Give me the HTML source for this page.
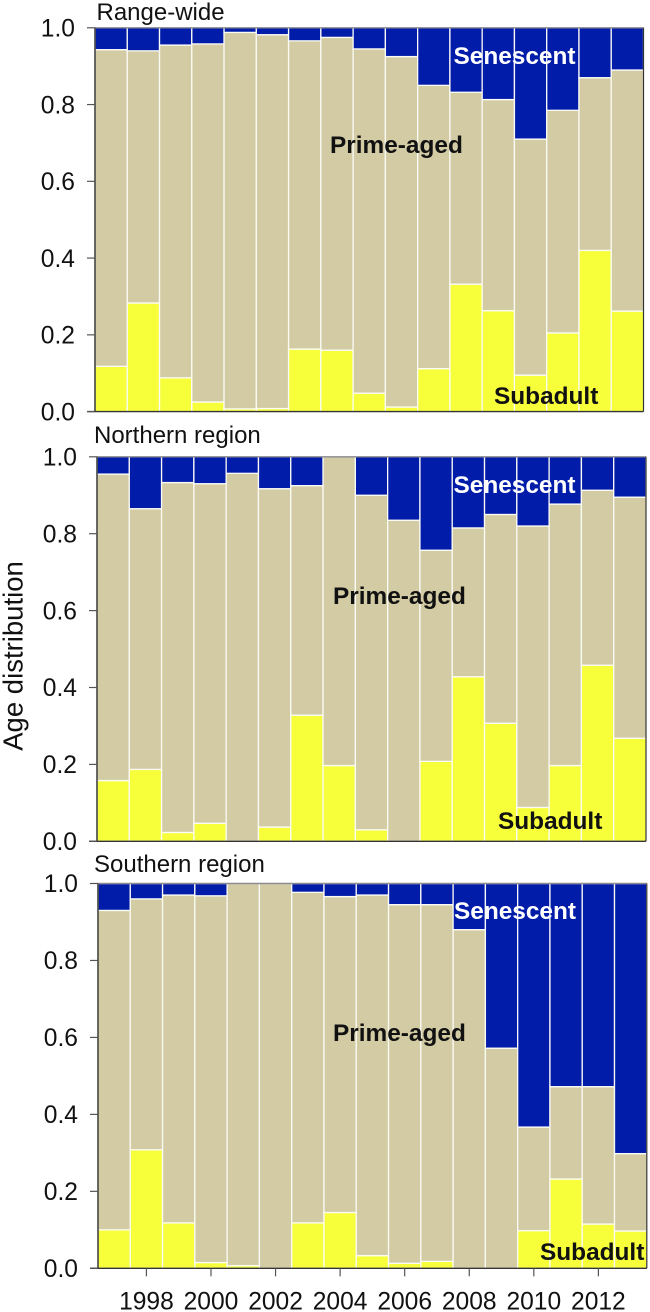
<!DOCTYPE html>
<html lang="en">
<head>
<meta charset="utf-8">
<title>Age distribution by region</title>
<style>
html,body{margin:0;padding:0;background:#fff;}
svg{display:block;font-family:"Liberation Sans",sans-serif;}
text{fill:#111;}
.tick{font-size:24.6px;}
.title{font-size:24px;}
.lab{font-size:24.4px;font-weight:bold;}
</style>
</head>
<body>
<svg id="chart" xmlns="http://www.w3.org/2000/svg" width="650" height="1312" viewBox="0 0 650 1312">
<text transform="translate(22.7 656) rotate(-90)" text-anchor="middle" font-size="27.5">Age distribution</text>
</svg>
<script>
const years = [1997,1998,1999,2000,2001,2002,2003,2004,2005,2006,2007,2008,2009,2010,2011,2012,2013];
const yTicks = [0,0.2,0.4,0.6,0.8,1.0];
const xTickYears = [1998,2000,2002,2004,2006,2008,2010,2012];

const rangeSubadult = [.118,.283,.088,.025,.007,.008,.163,.16,.048,.012,.112,.332,.263,.095,.205,.42,.262];
const rangePrime = [.825,.657,.867,.933,.981,.974,.803,.815,.897,.913,.738,.5,.55,.615,.58,.45,.628];
const rangeSenescent = [.057,.06,.045,.042,.012,.018,.034,.025,.055,.075,.15,.168,.187,.29,.215,.13,.11];

const northSubadult = [.158,.187,.023,.047,0,.037,.328,.197,.03,0,.208,.428,.307,.088,.197,.458,.268];
const northPrime = [.797,.678,.91,.883,.957,.88,.597,.803,.87,.835,.549,.387,.543,.732,.68,.455,.627];
const northSenescent = [.045,.135,.067,.07,.043,.083,.075,0,.1,.165,.243,.185,.15,.18,.123,.087,.105];

const southSubadult = [.1,.308,.118,.015,.007,0,.118,.145,.033,.013,.018,0,0,.098,.232,.115,.097];
const southPrime = [.83,.652,.852,.953,.993,1,.859,.821,.937,.932,.927,.88,.572,.269,.24,.357,.201];
const southSenescent = [.07,.04,.03,.032,0,0,.023,.034,.03,.055,.055,.12,.428,.633,.528,.528,.702];

const NS = 'http://www.w3.org/2000/svg';
const svg = document.getElementById('chart');
const COLORS = {subadult:'#f7ff3a', prime:'#d2cba3', senescent:'#011ca8'};

function make(parent, tag, attrs, text) {
  const el = document.createElementNS(NS, tag);
  for (const k in attrs) el.setAttribute(k, attrs[k]);
  if (text !== undefined) el.textContent = text;
  parent.appendChild(el);
  return el;
}

function drawPanel(cfg) {
  const g = make(svg, 'g', {});
  
  

  const step = (cfg.right - cfg.left) / years.length;
  const xScale = function (i) { return cfg.left + i * step; };
  const yScale = function (v) { return cfg.bottom - v * (cfg.bottom - cfg.top); };

  years.forEach(function (yr, i) {
    let base = 0;
    [['subadult', cfg.subadult], ['prime', cfg.prime], ['senescent', cfg.senescent]].forEach(function (s) {
      const v = s[1][i];
      const y0 = yScale(base);
      const y1 = yScale(base + v);
      base += v;
      if (v <= 0) return;
      const r = make(g, 'rect', {x: xScale(i), y: y1, width: step, height: y0 - y1, fill: COLORS[s[0]], stroke: '#fbfbf6', 'stroke-width': 1.3});
      
      
    });
  });

  const frame = make(g, 'path', {
    d: 'M' + cfg.left + ' ' + cfg.top + 'H' + cfg.right,
    stroke: '#8a8a90', 'stroke-width': 1.4, fill: 'none'
  });
  
  

  const rightLine = make(g, 'line', {x1: cfg.right, x2: cfg.right, y1: cfg.top, y2: cfg.bottom, stroke: '#333', 'stroke-width': 1.2});
  
  

  const yAxis = make(g, 'line', {x1: cfg.left, x2: cfg.left, y1: cfg.top, y2: cfg.bottom, stroke: '#444', 'stroke-width': 1.6});
  
  

  const xAxis = make(g, 'line', {x1: cfg.left - 8, x2: cfg.right, y1: cfg.bottom, y2: cfg.bottom, stroke: '#333', 'stroke-width': 1.4});
  
  

  yTicks.forEach(function (t) {
    const tl = make(g, 'line', {x1: cfg.left - 8, x2: cfg.left, y1: yScale(t), y2: yScale(t), stroke: '#555', 'stroke-width': 1.2});
    
    
    const lb = make(g, 'text', {x: cfg.left - 20, y: yScale(t) + 8.7, 'text-anchor': 'end', class: 'tick'}, t.toFixed(1));
    
    
  });

  const ttl = make(g, 'text', {x: cfg.titleX, y: cfg.titleY, class: 'title'}, cfg.title);
  
  

  const sen = make(g, 'text', {x: cfg.senX, y: cfg.senY, class: 'lab', style: 'fill:#fff'}, 'Senescent');
  
  
  const pri = make(g, 'text', {x: cfg.priX, y: cfg.priY, class: 'lab'}, 'Prime-aged');
  
  
  const sub = make(g, 'text', {x: cfg.subX, y: cfg.subY, class: 'lab'}, 'Subadult');
  
  

  if (cfg.showX) {
    xTickYears.forEach(function (yr) {
      const x = xScale(years.indexOf(yr) + 0.5);
      const tk = make(g, 'line', {x1: x, x2: x, y1: cfg.bottom, y2: cfg.bottom + 8, stroke: '#555', 'stroke-width': 1.2});
      
      
      const lb = make(g, 'text', {x: x, y: cfg.bottom + 41, 'text-anchor': 'middle', class: 'tick'}, String(yr));
      
      
    });
  }
}

drawPanel({key:'range-wide', title:'Range-wide', left:95, right:643.5, top:27.8, bottom:411.6,
  titleX:96.5, titleY:20, senX:453.5, senY:64, priX:330, priY:153, subX:494, subY:404,
  subadult:rangeSubadult, prime:rangePrime, senescent:rangeSenescent});
drawPanel({key:'northern-region', title:'Northern region', left:97, right:646, top:456.8, bottom:841.3,
  titleX:94, titleY:443, senX:453.5, senY:493, priX:333, priY:604, subX:498, subY:829,
  subadult:northSubadult, prime:northPrime, senescent:northSenescent});
drawPanel({key:'southern-region', title:'Southern region', left:98, right:646.8, top:883.5, bottom:1268.3,
  titleX:94, titleY:872, senX:454, senY:919, priX:333, priY:1041, subX:540, subY:1260, showX:true,
  subadult:southSubadult, prime:southPrime, senescent:southSenescent});
</script>
</body>
</html>
